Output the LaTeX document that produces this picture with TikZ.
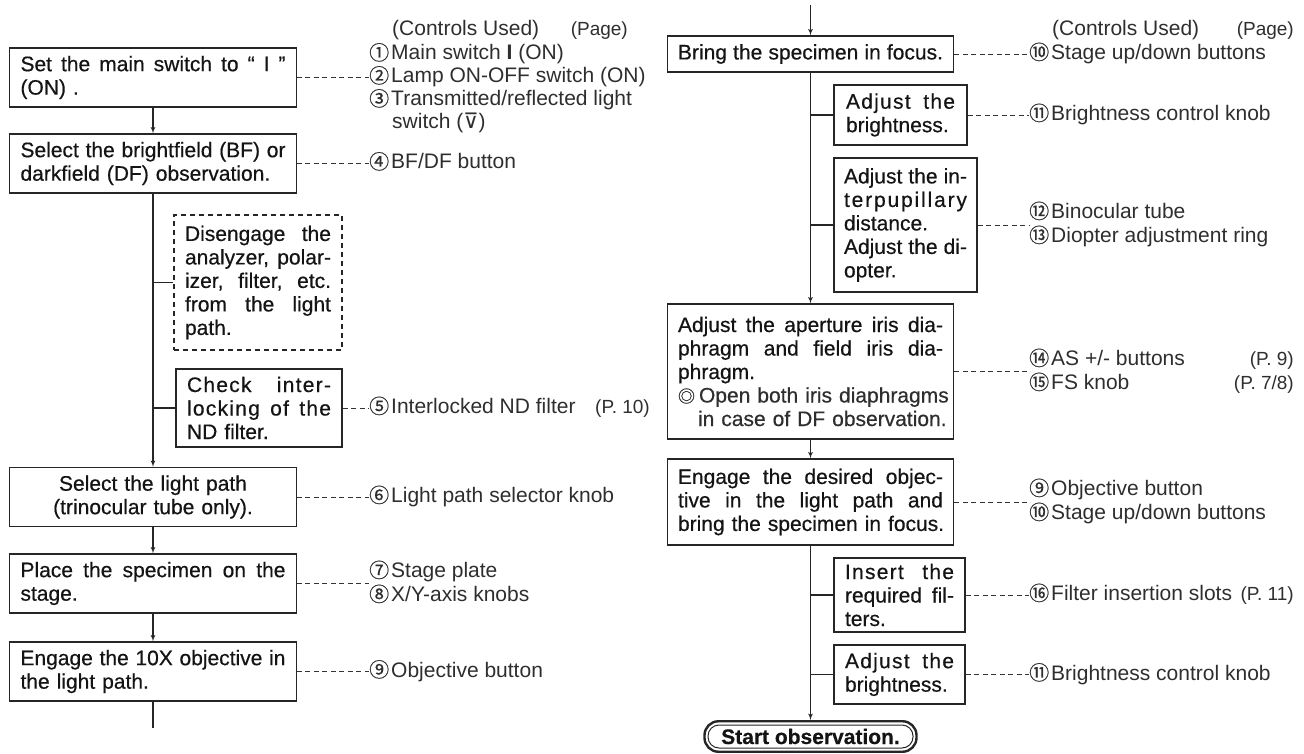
\documentclass[tikz,border=0pt]{standalone}
\usepackage{fontspec}
\setmainfont{Liberation Sans}
\newfontfamily\boxface{Liberation Sans}[FakeBold=0.5]
\newfontfamily\circfont{Noto Sans CJK JP}[FakeBold=0.6]
\newfontfamily\symfont{DejaVu Sans}
\usetikzlibrary{arrows}
\newcommand{\boxfont}{\boxface\fontsize{21}{23.5}\selectfont}
\newcommand{\notefont}{\fontsize{21}{24}\selectfont}
\newcommand{\jl}[1]{{\spaceskip=0.278em plus 1fil\relax\makebox[\hsize][s]{#1}}}
\newcommand{\spl}[1]{{\addfontfeature{LetterSpace=6}\jl{#1}}}
\newcommand{\nl}[1]{\makebox[\hsize][l]{#1}}
\newcommand{\cn}[1]{{\circfont\fontsize{20}{20}\selectfont #1}\hspace{2pt}}
\tikzset{
  stepbox/.style={draw=black!85, line width=1.2pt, text width=265pt, inner xsep=10.75pt, inner ysep=2pt, minimum height=59pt, align=left, font=\boxfont, text=black!92},
  sidebox/.style={stepbox, text width=146pt, inner xsep=11pt},
  note/.style={anchor=west, inner sep=0pt, font=\notefont, text=black!82, text height=15pt, text depth=4pt},
  pagenote/.style={note, anchor=east, font=\fontsize{19}{24}\selectfont},
  startbox/.style={draw=black!85, line width=1pt, rounded corners=11pt, minimum width=205pt, minimum height=23pt, inner sep=0pt, font=\boxfont\bfseries, text=black!92}
}
\tikzstyle{arrow} = [line width=1.2pt, black!85, ->]
\tikzstyle{branch} = [line width=1.2pt, black!85]
\tikzstyle{dashline} = [line width=0.9pt, black!80, dash pattern=on 5pt off 3.5pt]

\begin{document}
\begin{tikzpicture}[x=1pt, y=1pt, >=latex', every node/.append style={align=left}]
    \useasboundingbox (0,0) rectangle (1304,-754);
    \node [stepbox] (set) at (153,-77.5) {\jl{Set the main switch to “ I ”}\\\nl{(ON) .}};
    \node [stepbox, below of=set, node distance=86pt] (bf) {\jl{Select the brightfield (BF) or}\\\nl{darkfield (DF) observation.}};
    \node [sidebox, dashed, dash pattern=on 5pt off 4pt, minimum height=135pt] (dis) at (258,-282.5) {\jl{Disengage the}\\\jl{analyzer, polar-}\\\jl{izer, filter, etc.}\\\jl{from the light}\\\nl{path.}};
    \node [sidebox, text width=144pt, minimum height=78pt] (chk) at (259,-408) {\spl{Check inter-}\\\spl{locking of the}\\\nl{ND filter.}};
    \node [stepbox, align=center, below of=bf, node distance=333.5pt] (path) {Select the light path\\(trinocular tube only).};
    \node [stepbox, below of=path, node distance=86.5pt] (place) {\jl{Place the specimen on the}\\\nl{stage.}};
    \node [stepbox, below of=place, node distance=88pt] (ten) {\jl{Engage the 10X objective in}\\\nl{the light path.}};
    \coordinate (lend) at (153,-728);

    \coordinate (rtop) at (810.5,-5);
    \node [stepbox, minimum height=36pt] (focus) at (810.5,-54) {\jl{Bring the specimen in focus.}};
    \node [sidebox, text width=109pt, inner xsep=12pt, minimum height=60pt] (bri) at (900.5,-115) {\spl{Adjust the}\\\nl{brightness.}};
    \node [sidebox, text width=123pt, inner xsep=10pt, minimum height=134pt] (ipd) at (905.5,-225) {\jl{Adjust the in-}\\\jl{t\hfil e\hfil r\hfil p\hfil u\hfil p\hfil i\hfil l\hfil l\hfil a\hfil r\hfil y}\\\nl{distance.}\\\jl{Adjust the di-}\\\nl{opter.}};
    \node [stepbox, minimum height=135pt, below of=focus, node distance=317.5pt] (iris) {\jl{Adjust the aperture iris dia-}\\\jl{phragm and field iris dia-}\\\nl{phragm.}\\\nl{\color{black!82}{\circfont\fontsize{17}{17}\selectfont ◎}\hspace{4pt}Open both iris diaphragms}\\\nl{\hspace*{20pt}\color{black!82}in case of DF observation.}};
    \node [stepbox, minimum height=86pt, below of=iris, node distance=130.5pt] (obj) {\jl{Engage the desired objec-}\\\jl{tive in the light path and}\\\nl{bring the specimen in focus.}};
    \node [sidebox, text width=109pt, inner xsep=11pt, minimum height=74pt] (filt) at (899.5,-595) {\spl{Insert the}\\\jl{required fil-}\\\nl{ters.}};
    \node [sidebox, text width=109pt, inner xsep=11pt, minimum height=59pt] (bri2) at (899.5,-674.5) {\spl{Adjust the}\\\nl{brightness.}};
    \node [startbox, below of=obj, node distance=234.5pt] (start) {Start observation.};
    \node [draw=black!85, line width=2.4pt, rounded corners=14pt, minimum width=212pt, minimum height=30.5pt, inner sep=0pt] (startout) at (start) {};

    \node [note] (hdrL) at (392,-30) {(Controls Used)};
    \node [pagenote] (pgL) at (628,-30) {(Page)};
    \node [note] (c1) at (369,-54.5) {\cn{①}Main switch \textbf{I} (ON)};
    \node [note] (c2) at (369,-77.5) {\cn{②}Lamp ON-OFF switch (ON)};
    \node [note] (c3) at (369,-100.5) {\cn{③}Transmitted/reflected light};
    \node [note] (c3b) at (392,-123.5) {switch ({\symfont ⊽})};
    \node [note] (c4) at (369,-163.5) {\cn{④}BF/DF button};
    \node [note] (c5) at (369,-408) {\cn{⑤}Interlocked ND filter};
    \node [pagenote] (p5) at (650,-408) {(P. 10)};
    \node [note] (c6) at (369,-497) {\cn{⑥}Light path selector knob};
    \node [note] (c7) at (369,-572) {\cn{⑦}Stage plate};
    \node [note] (c8) at (369,-596) {\cn{⑧}X/Y-axis knobs};
    \node [note] (c9) at (369,-671.5) {\cn{⑨}Objective button};

    \node [note] (hdrR) at (1052,-30) {(Controls Used)};
    \node [pagenote] (pgR) at (1294,-30) {(Page)};
    \node [note] (r10) at (1029,-54) {\cn{⑩}Stage up/down buttons};
    \node [note] (r11) at (1029,-115) {\cn{⑪}Brightness control knob};
    \node [note] (r12) at (1029,-213) {\cn{⑫}Binocular tube};
    \node [note] (r13) at (1029,-237) {\cn{⑬}Diopter adjustment ring};
    \node [note] (r14) at (1029,-360) {\cn{⑭}AS +/- buttons};
    \node [pagenote] (p14) at (1294,-360) {(P. 9)};
    \node [note] (r15) at (1029,-384) {\cn{⑮}FS knob};
    \node [pagenote] (p15) at (1294,-384) {(P. 7/8)};
    \node [note] (r9) at (1029,-490) {\cn{⑨}Objective button};
    \node [note] (r10b) at (1029,-514) {\cn{⑩}Stage up/down buttons};
    \node [note] (r16) at (1029,-595) {\cn{⑯}Filter insertion slots};
    \node [pagenote] (p16) at (1294,-595) {(P. 11)};
    \node [note] (r11b) at (1029,-674.5) {\cn{⑪}Brightness control knob};

    \draw [dashline] (set.east) -- (c2.west);
    \draw [dashline] (bf.east) -- (c4.west);
    \draw [dashline] (chk.east) -- (c5.west);
    \draw [dashline] (path.east) -- (c6.west);
    \draw [dashline] (place.east) -- (place.east -| c7.west);
    \draw [dashline] (ten.east) -- (c9.west);
    \draw [dashline] (focus.east) -- (r10.west);
    \draw [dashline] (bri.east) -- (r11.west);
    \draw [dashline] (ipd.east) -- (ipd.east -| r12.west);
    \draw [dashline] (iris.east) -- (iris.east -| r14.west);
    \draw [dashline] (obj.east) -- (obj.east -| r9.west);
    \draw [dashline] (filt.east) -- (r16.west);
    \draw [dashline] (bri2.east) -- (r11b.west);

    \draw [arrow] (set.south) -- (bf.north);
    \draw [arrow] (bf.south) -- (path.north);
    \draw [branch] (dis.west) -- (dis.west -| bf.south);
    \draw [branch] (chk.west) -- (chk.west -| bf.south);
    \draw [arrow] (path.south) -- (place.north);
    \draw [arrow] (place.south) -- (ten.north);
    \draw [branch] (ten.south) -- (lend);
    \draw [arrow] (rtop) -- (focus.north);
    \draw [arrow] (focus.south) -- (iris.north);
    \draw [branch] (bri.west) -- (bri.west -| focus.south);
    \draw [branch] (ipd.west) -- (ipd.west -| focus.south);
    \draw [arrow] (iris.south) -- (obj.north);
    \draw [arrow] (obj.south) -- (startout.north);
    \draw [branch] (filt.west) -- (filt.west -| obj.south);
    \draw [branch] (bri2.west) -- (bri2.west -| obj.south);
\end{tikzpicture}
\end{document}
